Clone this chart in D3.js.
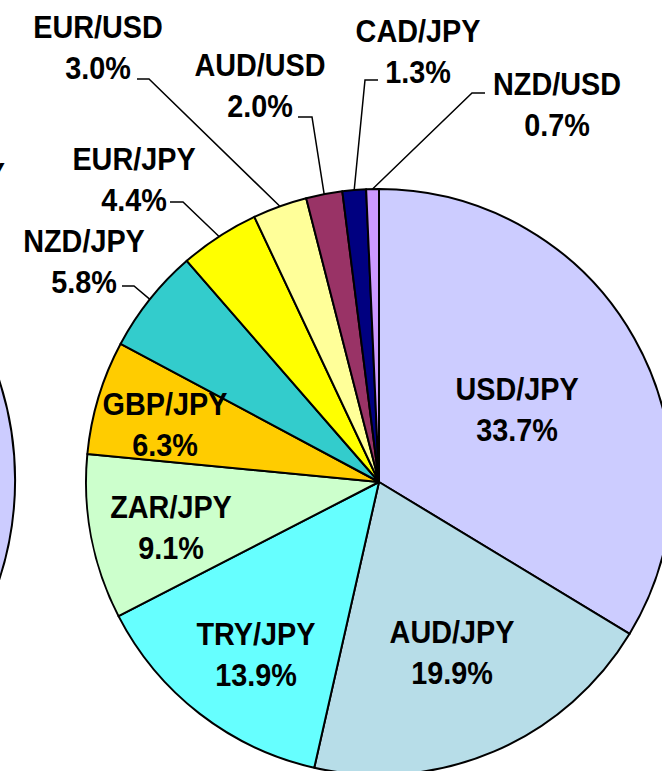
<!DOCTYPE html>
<html>
<head>
<meta charset="utf-8">
<script src="https://cdn.jsdelivr.net/npm/d3@7"></script>
<style>
  body { margin: 0; background: #fff; }
  svg { display: block; }
  text { font-family: "Liberation Sans", Arial, sans-serif; font-weight: bold; }
</style>
</head>
<body>
<script>
// currency pairs, clockwise from 12 o'clock
const pairs = ["USD/JPY", "AUD/JPY", "TRY/JPY", "ZAR/JPY", "GBP/JPY", "NZD/JPY",
               "EUR/JPY", "EUR/USD", "AUD/USD", "CAD/JPY", "NZD/USD"];
const shares = [33.7, 19.9, 13.9, 9.1, 6.3, 5.8, 4.4, 3.0, 2.0, 1.3, 0.7];
const colors = ["#ccccff", "#b7dde8", "#66ffff", "#ccffcc", "#ffcc00", "#33cccc",
                "#ffff00", "#ffff99", "#993366", "#000080", "#cc99ff"];

// neighbouring chart on the left, almost all off screen
const leftPie = [100];
const leftLabel = "NZD/JPY";

let width = 662;
let height = 771;
let cx = 379, cy = 482, radius = 293;
let fontSize = 32;
let lineGap = 41;
let squeeze = 0.9; // the original face is narrower

// label placement: x = text centre, y = baseline of pair name
// leader: horizontal piece from x1 to x2 at y, then on to the pie edge
const layout = {
  "USD/JPY": { x: 517, y: 400 },
  "AUD/JPY": { x: 452, y: 643 },
  "TRY/JPY": { x: 256, y: 645 },
  "ZAR/JPY": { x: 171, y: 518 },
  "GBP/JPY": { x: 165, y: 415 },
  "NZD/JPY": { x: 84, y: 252, leader: { x1: 122, x2: 134, y: 286 } },
  "EUR/JPY": { x: 134, y: 170, leader: { x1: 170, x2: 183, y: 202 } },
  "EUR/USD": { x: 98, y: 38, leader: { x1: 137, x2: 149, y: 79 } },
  "AUD/USD": { x: 260, y: 76, leader: { x1: 298, x2: 312, y: 117 } },
  "CAD/JPY": { x: 418, y: 42, leader: { x1: 378, x2: 365, y: 80 } },
  "NZD/USD": { x: 557, y: 95, leader: { x1: 485, x2: 472, y: 93 } }
};

let data = pairs.map((p, i) => ({ pair: p, value: shares[i], color: colors[i] }));

let svg = d3.select("body").append("svg")
    .attr("width", width)
    .attr("height", height)
    .attr("viewBox", [0, 0, width, height]);

// left neighbour pie (only its edge shows)
let leftArc = d3.arc().innerRadius(0).outerRadius(321);
svg.append("g")
    .attr("transform", "translate(-306,480)")
    .selectAll("path")
    .data(d3.pie().sort(null)(leftPie))
    .join("path")
    .attr("d", leftArc)
    .attr("fill", "#ccccff")
    .attr("stroke", "#000")
    .attr("stroke-width", 2);

svg.append("text")
    .attr("transform", `translate(5,185) scale(${squeeze},1)`)
    .attr("text-anchor", "end")
    .attr("font-size", fontSize)
    .text(leftLabel);

let pie = d3.pie().sort(null).value(d => d.value);
let arc = d3.arc().innerRadius(0).outerRadius(radius);
let arcs = pie(data);

let g = svg.append("g").attr("transform", `translate(${cx},${cy})`);

g.selectAll("path")
    .data(arcs)
    .join("path")
    .attr("d", arc)
    .attr("fill", d => d.data.color)
    .attr("stroke", "#000")
    .attr("stroke-width", 2)
    .attr("stroke-linejoin", "round");

// leader lines for the small slices
let edge = d => {
  let a = (d.startAngle + d.endAngle) / 2;
  return [cx + radius * Math.sin(a), cy - radius * Math.cos(a)];
};

svg.append("g")
    .selectAll("path")
    .data(arcs.filter(d => layout[d.data.pair].leader))
    .join("path")
    .attr("fill", "none")
    .attr("stroke", "#000")
    .attr("stroke-width", 1.5)
    .attr("d", d => {
      let l = layout[d.data.pair].leader;
      let e = edge(d);
      return `M${l.x1},${l.y}L${l.x2},${l.y}L${e[0]},${e[1]}`;
    });

// labels: pair name, then share below it
let labels = svg.append("g")
    .selectAll("g")
    .data(arcs)
    .join("g");

labels.append("text")
    .attr("transform", d => `translate(${layout[d.data.pair].x},${layout[d.data.pair].y}) scale(${squeeze},1)`)
    .attr("text-anchor", "middle")
    .attr("font-size", fontSize)
    .text(d => d.data.pair);

labels.append("text")
    .attr("transform", d => `translate(${layout[d.data.pair].x},${layout[d.data.pair].y + lineGap}) scale(${squeeze},1)`)
    .attr("text-anchor", "middle")
    .attr("font-size", fontSize)
    .text(d => d.data.value.toFixed(1) + "%");
</script>
</body>
</html>
